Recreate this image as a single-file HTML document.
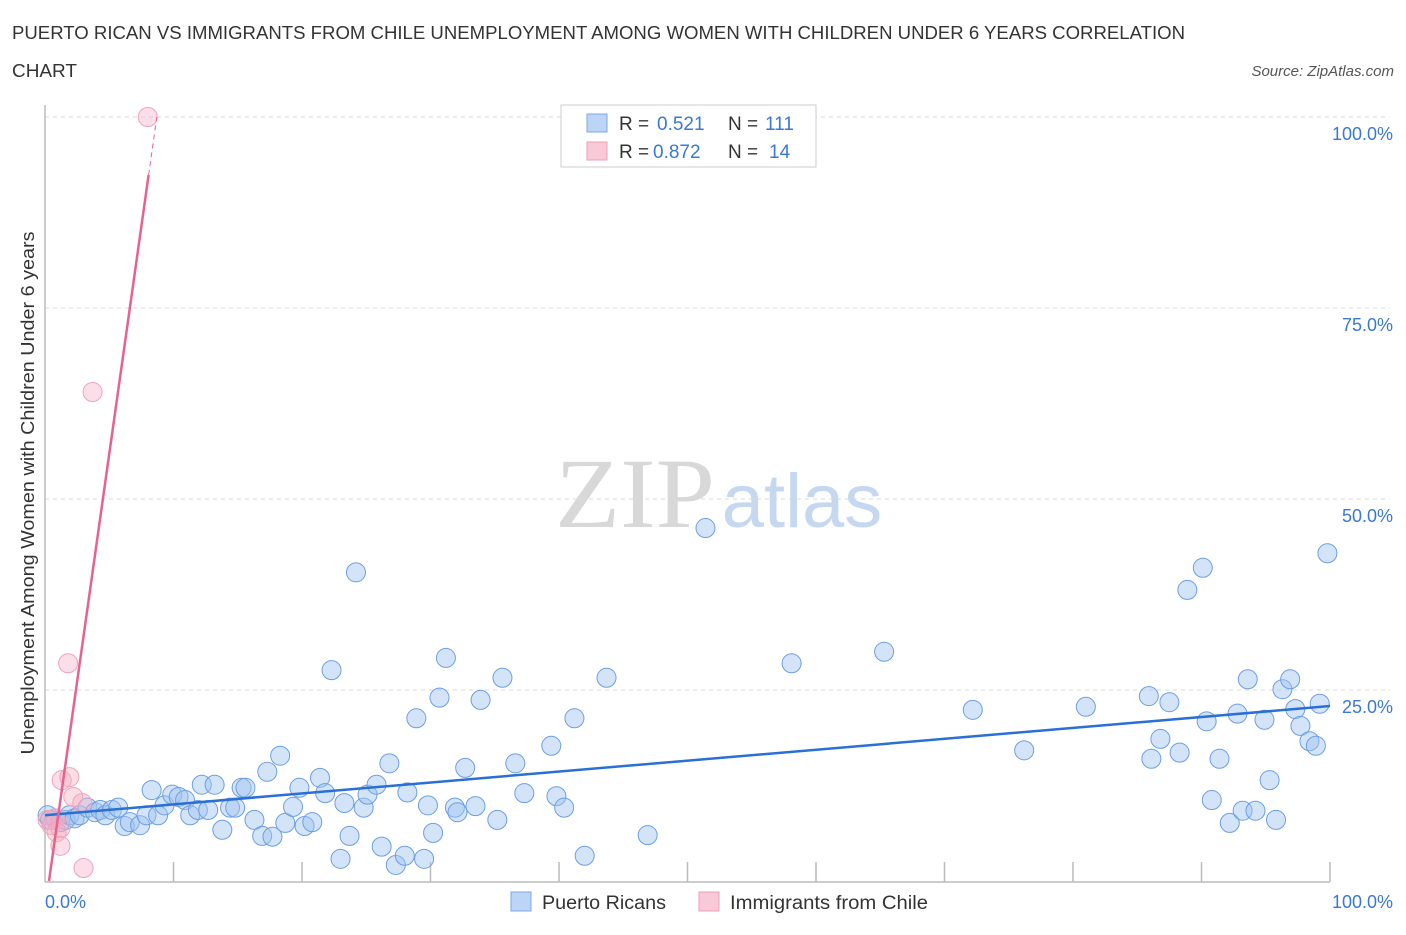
<!DOCTYPE html>
<html><head><meta charset="utf-8"><style>
body{margin:0;background:#fff;font-family:"Liberation Sans",sans-serif;}
</style></head><body>
<svg id="chart" width="1406" height="930" xmlns="http://www.w3.org/2000/svg" font-family="Liberation Sans, sans-serif">
<text x="12" y="39" font-size="18" fill="#333" textLength="1173" lengthAdjust="spacingAndGlyphs">PUERTO RICAN VS IMMIGRANTS FROM CHILE UNEMPLOYMENT AMONG WOMEN WITH CHILDREN UNDER 6 YEARS CORRELATION</text>
<text x="12" y="77" font-size="18" fill="#333" textLength="65" lengthAdjust="spacingAndGlyphs">CHART</text>
<text x="1394" y="76" font-size="15" fill="#555" font-style="italic" text-anchor="end">Source: ZipAtlas.com</text>
<g>
<text x="635" y="527" font-size="100" fill="#d8d8d8" font-family="Liberation Serif, serif" text-anchor="middle" textLength="160" lengthAdjust="spacingAndGlyphs">ZIP</text>
<text x="802" y="527" font-size="76" fill="#c5d8f0" text-anchor="middle">atlas</text>
</g>
<g id="grid"></g><g id="axes"></g><g id="marks"></g>
<text transform="translate(34,493) rotate(-90)" font-size="18" fill="#333" text-anchor="middle" textLength="523" lengthAdjust="spacingAndGlyphs">Unemployment Among Women with Children Under 6 years</text>
<g>
<rect x="561" y="105" width="255" height="62" fill="#fff" stroke="#ccc"/>
<rect x="587" y="114" width="20" height="18" fill="#bcd4f5" stroke="#7aa8e6"/>
<text x="619" y="130" font-size="19" fill="#333">R = </text><text x="657" y="130" font-size="19" fill="#3a78d4">0.521</text>
<text x="728" y="130" font-size="19" fill="#333">N = </text><text x="765" y="130" font-size="19" fill="#3a78d4">111</text>
<rect x="587" y="142" width="20" height="18" fill="#f9c9d8" stroke="#ee9fb8"/>
<text x="619" y="158" font-size="19" fill="#333">R = </text><text x="653" y="158" font-size="19" fill="#3a78d4">0.872</text>
<text x="728" y="158" font-size="19" fill="#333">N = </text><text x="769" y="158" font-size="19" fill="#3a78d4">14</text>
</g>
<g>
<rect x="511" y="892" width="20" height="19" fill="#bcd4f5" stroke="#7aa8e6"/>
<text x="542" y="909" font-size="19" fill="#333" textLength="124" lengthAdjust="spacingAndGlyphs">Puerto Ricans</text>
<rect x="699" y="892" width="20" height="19" fill="#f9c9d8" stroke="#ee9fb8"/>
<text x="730" y="909" font-size="19" fill="#333" textLength="198" lengthAdjust="spacingAndGlyphs">Immigrants from Chile</text>
</g>
</svg>
<script>
const blueX=[0.2,0.4,0.8,1.2,1.6,1.9,2.3,2.7,3.3,3.9,4.3,4.7,5.2,5.7,6.2,6.6,7.4,7.9,8.3,8.8,9.3,9.9,10.4,10.9,11.3,11.9,12.2,12.7,13.2,13.8,14.4,14.8,15.3,15.6,16.3,16.9,17.3,17.7,18.3,18.7,19.3,19.8,20.2,20.8,21.4,21.8,22.3,23.0,23.3,23.7,24.2,24.8,25.1,25.8,26.2,26.8,27.3,28.0,28.2,28.9,29.5,29.8,30.2,30.7,31.2,31.9,32.1,32.7,33.5,33.9,35.2,35.6,36.6,37.3,39.4,39.8,40.4,41.2,42.0,43.7,46.9,51.4,58.1,65.3,72.2,76.2,81.0,85.9,86.1,86.8,87.5,88.3,88.9,90.1,90.4,90.8,91.4,92.2,92.8,93.2,93.6,94.2,94.9,95.3,95.8,96.3,96.9,97.3,97.7,98.4,98.9,99.2,99.8];
const blueY=[8.6,8.0,8.2,7.7,8.0,8.6,8.2,8.6,9.6,9.0,9.3,8.6,9.3,9.6,7.2,7.7,7.3,8.6,11.9,8.6,9.9,11.3,11.0,10.6,8.6,9.3,12.6,9.3,12.6,6.7,9.6,9.6,12.2,12.2,8.0,5.9,14.3,5.8,16.4,7.6,9.7,12.2,7.2,7.7,13.5,11.5,27.6,2.9,10.2,5.9,40.4,9.6,11.3,12.6,4.5,15.4,2.1,3.3,11.6,21.3,2.9,9.9,6.3,24.0,29.2,9.6,9.0,14.8,9.8,23.7,8.0,26.6,15.4,11.5,17.7,11.1,9.6,21.3,3.3,26.6,6.0,46.2,28.5,30.0,22.4,17.1,22.8,24.2,16.0,18.6,23.4,16.8,38.1,41.0,20.9,10.6,16.0,7.6,21.9,9.2,26.4,9.2,21.1,13.2,8.0,25.1,26.4,22.5,20.3,18.3,17.7,23.2,42.9];
const pinkX=[0.2,0.5,0.8,1.2,0.9,1.2,1.3,1.8,1.9,2.2,2.9,3.0,3.7,8.0];
const pinkY=[8.0,7.3,8.2,6.9,6.4,4.6,13.2,28.5,13.6,11.0,10.2,1.7,64.0,100];
const yTicks=[25,50,75,100];
const blueTrend=[8.6,22.9];
const pinkTrend={x0:0.31,slope:0.0839,solidTo:92.4};
const X0=45,X1=1330,Y0=881,YS=7.64;
const sx=v=>X0+v*(X1-X0)/100, sy=v=>Y0-v*YS;
const NS="http://www.w3.org/2000/svg";
function mk(parent,tag,attrs){const e=document.createElementNS(NS,tag);for(const k in attrs)e.setAttribute(k,attrs[k]);document.getElementById(parent).appendChild(e);return e;}
yTicks.forEach(t=>{
 const l=mk('grid','line',{x1:X0,x2:1390,y1:sy(t),y2:sy(t),stroke:'#d8d8d8','stroke-dasharray':'4,4'});
 
 
 const tx=mk('grid','text',{x:1393,y:sy(t)+23,'font-size':18,fill:'#3a78d4','text-anchor':'end'});
 tx.textContent=t.toFixed(1)+'%';
 
 
});
let a=mk('axes','line',{x1:X0,x2:X0,y1:105,y2:Y0+1,stroke:'#bbb','stroke-width':1.5});


a=mk('axes','line',{x1:X0,x2:X1,y1:Y0+1,y2:Y0+1,stroke:'#bbb','stroke-width':1.5});


for(let i=1;i<=10;i++){const t=mk('axes','line',{x1:sx(i*10),x2:sx(i*10),y1:862,y2:Y0+1,stroke:'#bbb','stroke-width':1.5});
 
 }
let lb=mk('axes','text',{x:45,y:908,'font-size':18,fill:'#3a78d4'});lb.textContent='0.0%';


lb=mk('axes','text',{x:1393,y:908,'font-size':18,fill:'#3a78d4','text-anchor':'end'});lb.textContent='100.0%';


blueX.forEach((x,i)=>{const c=mk('marks','circle',{cx:sx(x),cy:sy(blueY[i]),r:9.5,fill:'rgba(160,196,240,0.45)',stroke:'#6b9fe2','stroke-width':1});
 
 });
pinkX.forEach((x,i)=>{const c=mk('marks','circle',{cx:sx(x),cy:sy(pinkY[i]),r:9.5,fill:'rgba(246,172,196,0.4)',stroke:'#f0a3ba','stroke-width':1});
 
 });
let tl=mk('marks','line',{x1:sx(0),y1:sy(blueTrend[0]),x2:sx(100),y2:sy(blueTrend[1]),stroke:'#2a6fd6','stroke-width':2.5});


const px=y=>pinkTrend.x0+pinkTrend.slope*y;
tl=mk('marks','line',{x1:sx(px(0)),y1:sy(0),x2:sx(px(pinkTrend.solidTo)),y2:sy(pinkTrend.solidTo),stroke:'#e8628e','stroke-width':2.5});


tl=mk('marks','line',{x1:sx(px(pinkTrend.solidTo)),y1:sy(pinkTrend.solidTo),x2:sx(px(100)),y2:sy(100),stroke:'#e8628e','stroke-width':1,'stroke-dasharray':'5,4'});


</script>
</body></html>
